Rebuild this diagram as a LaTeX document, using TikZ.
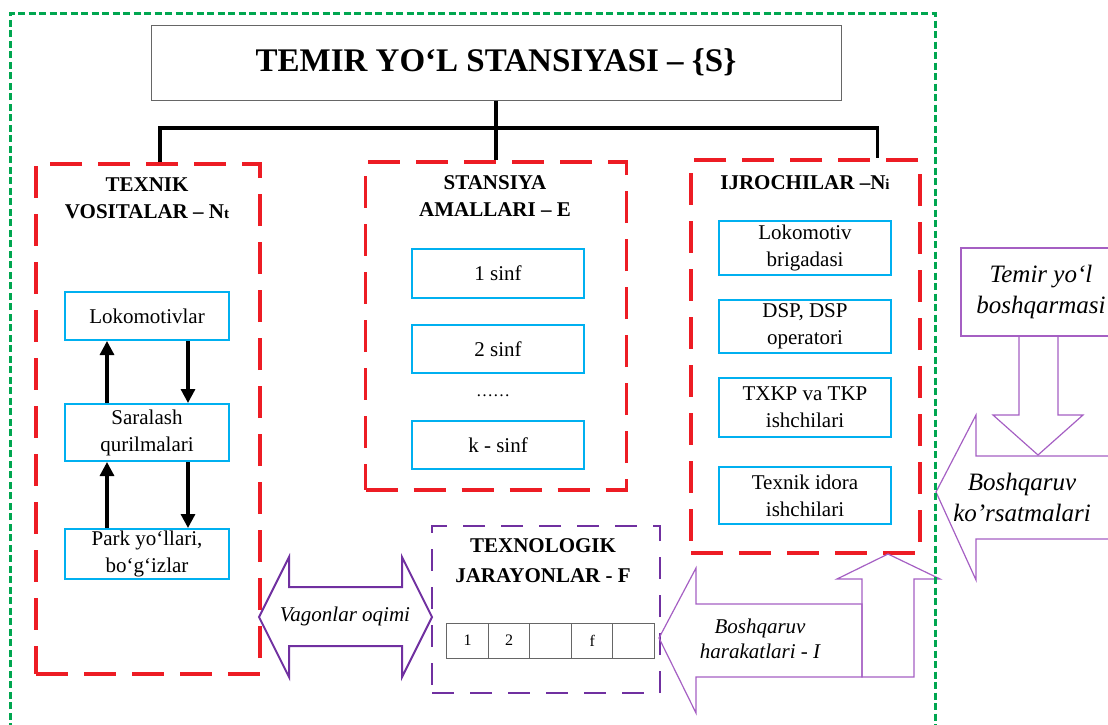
\documentclass[tikz,border=0pt]{standalone}
\usepackage{fontspec}
\setmainfont{Liberation Serif}
\usetikzlibrary{arrows.meta}

\definecolor{stred}{RGB}{237,28,36}
\definecolor{stblue}{RGB}{0,176,240}
\definecolor{stgreen}{RGB}{0,166,80}
\definecolor{stviolet}{RGB}{112,48,160}
\definecolor{stlilac}{RGB}{165,95,195}

\begin{document}
\begin{tikzpicture}[x=1pt, y=-1pt,
        every node/.style={inner sep=0pt, align=center, font=\fontsize{21}{27}\selectfont},
        group/.style={draw=stred, line width=3.5pt, dash pattern=on 32pt off 16pt},
        item/.style={draw=stblue, line width=2pt},
        heading/.style={font=\fontsize{21}{27}\selectfont\bfseries},
        cell/.style={draw=black!60, line width=1pt, minimum width=41.5pt, minimum height=35pt, font=\fontsize{16}{16}\selectfont},
        note/.style={font=\fontsize{25}{31}\selectfont\itshape},
        flow/.style={line width=3.2pt, -{Triangle[length=14pt,width=14pt]}},
        treeline/.style={line width=3.2pt},
        bigarrow/.style={draw=stlilac, line width=1.2pt}]
        \useasboundingbox (0,0) rectangle (1108,724);
        \clip (0,0) rectangle (1108,724);

        \node[draw=black!60, line width=1pt, minimum width=690pt, minimum height=75pt,
              font=\fontsize{33}{40}\selectfont\bfseries] (stansiya) at (496,62.5) {TEMIR YO‘L STANSIYASI – \{S\}};

        \node[group, minimum width=224pt, minimum height=510pt] (texnik) at (148,419) {};
        \node[group, minimum width=261pt, minimum height=328pt] (amallar) at (496,326) {};
        \node[group, minimum width=229pt, minimum height=393pt] (ijro) at (805.5,356.5) {};

        \node[heading] (texniktitle) at (147,198.5) {TEXNIK\\VOSITALAR – N{\fontsize{15}{15}\selectfont t}};
        \node[heading] (amallartitle) at (495,196) {STANSIYA\\AMALLARI – E};
        \node[heading] (ijrotitle) at (805,183) {IJROCHILAR –N{\fontsize{15}{15}\selectfont i}};

        \node[item, minimum width=164pt, minimum height=48pt] (lokomotiv) at (147,316) {Lokomotivlar};
        \node[item, minimum width=164pt, minimum height=57pt] (saralash) [below of = lokomotiv, node distance=116.5pt] {Saralash\\qurilmalari};
        \node[item, minimum width=164pt, minimum height=50pt] (park) [below of = saralash, node distance=121.5pt] {Park yo‘llari,\\bo‘g‘izlar};

        \draw[flow] ([xshift=-40pt]saralash.north) -- ([xshift=-40pt]lokomotiv.south);
        \draw[flow] ([xshift=41pt]lokomotiv.south) -- ([xshift=41pt]saralash.north);
        \draw[flow] ([xshift=-40pt]park.north) -- ([xshift=-40pt]saralash.south);
        \draw[flow] ([xshift=41pt]saralash.south) -- ([xshift=41pt]park.north);

        \node[item, minimum width=172pt, minimum height=49pt] (sinf1) at (498,273.5) {1 sinf};
        \node[item, minimum width=172pt, minimum height=48pt] (sinf2) [below of = sinf1, node distance=75.5pt] {2 sinf};
        \node[font=\fontsize{17}{17}\selectfont] (sinfdots) at (493,396) {……};
        \node[item, minimum width=172pt, minimum height=48pt] (sinfk) at (498,445) {k - sinf};

        \node[item, minimum width=172pt, minimum height=54pt] (brigada) at (805,248) {Lokomotiv\\brigadasi};
        \node[item, minimum width=172pt, minimum height=53pt] (dsp) [below of = brigada, node distance=78.5pt] {DSP, DSP\\operatori};
        \node[item, minimum width=172pt, minimum height=59pt] (txkp) [below of = dsp, node distance=81pt] {TXKP va TKP\\ishchilari};
        \node[item, minimum width=172pt, minimum height=57pt] (idora) [below of = txkp, node distance=88pt] {Texnik idora\\ishchilari};

        \coordinate (bar) at (496,128);
        \draw[treeline] (stansiya.south) -- (amallar.north);
        \draw[treeline] ([xshift=12pt]texnik.north) |- (bar) -| ([xshift=72pt]ijro.north);

        \node[draw=stviolet, line width=2pt, dash pattern=on 22pt off 16pt,
              minimum width=228pt, minimum height=167pt] (texnolog) at (546,609.5) {};
        \node[heading, font=\fontsize{21}{30}\selectfont\bfseries] (texnologtitle) at (543,561) {TEXNOLOGIK\\JARAYONLAR - F};
        \node[cell] (c1) at (467.7,640.5) {1};
        \node[cell] (c2) [right of = c1, node distance=41.5pt] {2};
        \node[cell] (c3) [right of = c2, node distance=41.5pt] {};
        \node[cell] (c4) [right of = c3, node distance=41.5pt] {f};
        \node[cell] (c5) [right of = c4, node distance=41.5pt] {};

        \draw[stviolet, line width=2pt] (259,617) -- (289,557) -- (289,587) -- (402,587) -- (402,557) -- (432,617)
            -- (402,677) -- (402,646) -- (289,646) -- (289,677) -- cycle;
        \node[font=\fontsize{21}{27}\selectfont\itshape] (vagonlar) at (345,616) {Vagonlar oqimi};

        \draw[bigarrow] (659,638) -- (696,568) -- (696,604) -- (862,604) -- (862,677) -- (696,677) -- (696,713) -- cycle;
        \draw[bigarrow] (862,677) -- (862,579) -- (837,579) -- (888,554) -- (940,579) -- (914,579) -- (914,677) -- cycle;
        \node[font=\fontsize{21}{25}\selectfont\itshape] (harakat) at (760,639) {Boshqaruv\\harakatlari - I};

        \node[draw=stlilac, line width=1.2pt, minimum width=160pt, minimum height=88pt, note] (boshqarma) at (1041,292) {Temir yo‘l\\boshqarmasi};
        \draw[bigarrow] (1019,336) -- (1019,415) -- (993,415) -- (1038,455) -- (1083,415) -- (1058,415) -- (1058,336);
        \draw[bigarrow] (1120,456) -- (976,456) -- (976,415) -- (936,492) -- (976,580) -- (976,539) -- (1120,539);
        \node[note] (korsatma) at (1022,497) {Boshqaruv\\ko’rsatmalari};

        \draw[stgreen, line width=3pt, dash pattern=on 7pt off 3.5pt] (10,730) -- (10,13.5) -- (935,13.5) -- (935,730);
\end{tikzpicture}
\end{document}
